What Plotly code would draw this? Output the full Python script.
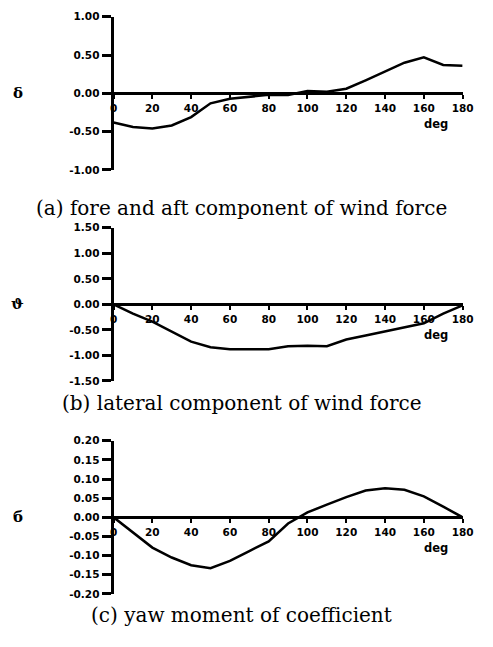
import plotly.graph_objects as go

W, H = 493, 647

deg = [0, 10, 20, 30, 40, 50, 60, 70, 80, 90, 100, 110, 120, 130, 140, 150, 160, 170, 180]

fore_aft = [-0.38, -0.44, -0.46, -0.42, -0.31, -0.13, -0.07, -0.04, -0.02, -0.02, 0.03, 0.02, 0.06, 0.17, 0.29, 0.40, 0.47, 0.37, 0.36]
lateral = [0.0, -0.18, -0.34, -0.53, -0.73, -0.84, -0.88, -0.88, -0.88, -0.82, -0.81, -0.82, -0.69, -0.61, -0.53, -0.46, -0.37, -0.18, -0.02]
yaw = [0.0, -0.04, -0.079, -0.105, -0.125, -0.133, -0.114, -0.088, -0.063, -0.016, 0.013, 0.033, 0.053, 0.07, 0.076, 0.072, 0.055, 0.028, 0.0]

x_ticks = [0, 20, 40, 60, 80, 100, 120, 140, 160, 180]
x_ticktext = ["0", "20", "40", "60", "80", "100", "120", "140", "160", "180"]

a_ticks = [1.0, 0.5, 0.0, -0.5, -1.0]
a_ticktext = ["1.00", "0.50", "0.00", "-0.50", "-1.00"]
b_ticks = [1.5, 1.0, 0.5, 0.0, -0.5, -1.0, -1.5]
b_ticktext = ["1.50", "1.00", "0.50", "0.00", "-0.50", "-1.00", "-1.50"]
c_ticks = [0.2, 0.15, 0.1, 0.05, 0.0, -0.05, -0.1, -0.15, -0.2]
c_ticktext = ["0.20", "0.15", "0.10", "0.05", "0.00", "-0.05", "-0.10", "-0.15", "-0.20"]

captions = ["(a) fore and aft component of wind force",
            "(b) lateral component of wind force",
            "(c) yaw moment of coefficient"]
ylabels = ["δ", "ϑ", "б"]

panels = [
    (fore_aft, [-1.0, 1.0], a_ticks, a_ticktext, 11, 167, 206),
    (lateral, [-1.5, 1.5], b_ticks, b_ticktext, 226, 382, 405),
    (yaw, [-0.2, 0.2], c_ticks, c_ticktext, 443, 599, 620),
]

xdom = [113 / W, 473 / W]
tickfont = dict(family="DejaVu Sans", size=10.5, color="black", weight="bold")

fig = go.Figure()
layout = dict(width=W, height=H, margin=dict(l=0, r=0, t=0, b=0),
              paper_bgcolor="white", plot_bgcolor="white", showlegend=False)
annotations = []

for i, (vals, yr, yt, ytt, ptop, pbot, capy) in enumerate(panels):
    n = "" if i == 0 else str(i + 1)
    fig.add_trace(go.Scatter(x=deg, y=vals, mode="lines",
                             line=dict(color="black", width=2.5),
                             xaxis="x" + n, yaxis="y" + n, hoverinfo="skip"))
    ydom = [1 - pbot / H, 1 - ptop / H]
    zero_pos = ydom[0] + (0 - yr[0]) / (yr[1] - yr[0]) * (ydom[1] - ydom[0])
    layout["xaxis" + n] = dict(domain=xdom, range=[0, 180], anchor="free",
                               position=zero_pos, tickvals=x_ticks, ticktext=x_ticktext,
                               showline=True, linecolor="black", linewidth=3,
                               ticks="outside", ticklen=4, tickwidth=2, tickcolor="black",
                               showgrid=False, zeroline=False, tickfont=tickfont)
    layout["yaxis" + n] = dict(domain=ydom, range=yr, anchor="x" + n,
                               tickvals=yt, ticktext=ytt,
                               showline=True, linecolor="black", linewidth=3,
                               ticks="outside", ticklen=9, tickwidth=2.5, tickcolor="black",
                               showgrid=False, zeroline=False, tickfont=tickfont)
    zero_px = H * (1 - zero_pos)
    annotations.append(dict(text="deg", x=446 / W, y=1 - (zero_px + 31) / H,
                            xref="paper", yref="paper", showarrow=False,
                            xanchor="center", yanchor="middle",
                            font=dict(family="DejaVu Sans", size=11.5, color="black", weight="bold")))
    annotations.append(dict(text=ylabels[i], x=14 / W, y=1 - zero_px / H,
                            xref="paper", yref="paper", showarrow=False,
                            xanchor="center", yanchor="middle",
                            font=dict(family="DejaVu Serif", size=15, color="black", weight="bold")))
    annotations.append(dict(text=captions[i], x=245 / W, y=1 - capy / H,
                            xref="paper", yref="paper", showarrow=False,
                            xanchor="center", yanchor="middle",
                            font=dict(family="DejaVu Serif", size=20, color="black")))

layout["annotations"] = annotations
fig.update_layout(**layout)
fig.write_html("out.html")
